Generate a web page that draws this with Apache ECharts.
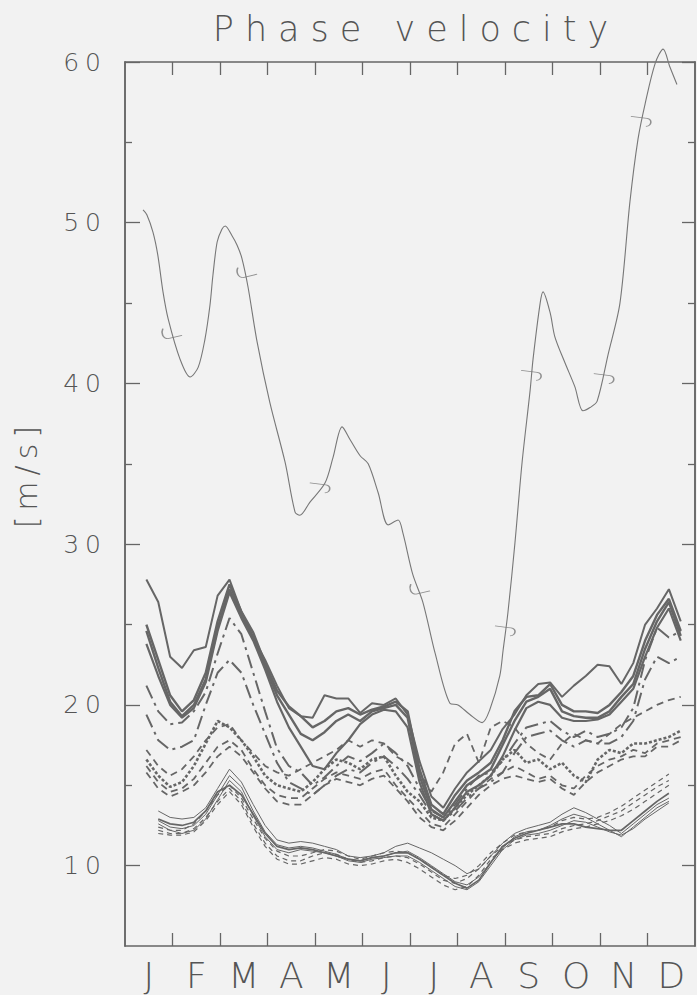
<!DOCTYPE html>
<html>
<head>
<meta charset="utf-8">
<script src="https://cdn.jsdelivr.net/npm/echarts@6/dist/echarts.min.js"></script>
<style>
  html, body { margin: 0; padding: 0; background: #f2f2f2; }
  #chart { width: 697px; height: 995px; }
</style>
</head>
<body>
<div id="chart"></div>
<script>
// Month letters and tick positions (axis runs 0..12 months)
const monthLabels = ['J', 'F', 'M', 'A', 'M', 'J', 'J', 'A', 'S', 'O', 'N', 'D'];
const monthCentres = [0.5, 1.5, 2.5, 3.5, 4.5, 5.5, 6.5, 7.5, 8.5, 9.5, 10.5, 11.5];
const monthEdges = [1, 2, 3, 4, 5, 6, 7, 8, 9, 10, 11];
const speedMajor = [10, 20, 30, 40, 50, 60];
const speedMinor = [15, 25, 35, 45, 55];

// Upper, fast curve
const topMonths = [0.38, 0.46, 0.59, 0.69, 0.80, 0.91, 1.16, 1.37, 1.54, 1.68, 1.79, 1.85, 1.94,
  2.04, 2.11, 2.25, 2.36, 2.46, 2.59, 2.78, 3.05, 3.37, 3.58, 3.68, 3.89, 4.21, 4.38, 4.57, 4.74,
  4.95, 5.12, 5.33, 5.54, 5.75, 5.85, 6.06, 6.27, 6.53, 6.84, 7.01, 7.26, 7.52, 7.68, 7.89, 7.96,
  8.06, 8.21, 8.36, 8.53, 8.59, 8.74, 8.80, 8.95, 9.05, 9.26, 9.47, 9.64, 9.79, 9.94, 10.17, 10.42,
  10.63, 10.80, 10.95, 11.16, 11.33, 11.47, 11.62];
const topSpeed = [50.8, 50.5, 49.4, 48.0, 45.7, 44.0, 41.5, 40.4, 41.0, 42.7, 44.9, 46.7, 48.8,
  49.6, 49.8, 49.2, 48.6, 47.8, 46.0, 42.6, 38.8, 35.1, 32.0, 31.8, 32.6, 33.8, 35.4, 37.3, 36.5,
  35.5, 35.0, 33.2, 31.2, 31.5, 30.7, 28.1, 26.4, 23.2, 20.1, 20.0, 19.4, 18.9, 19.7, 21.8, 23.4,
  25.7, 30.1, 35.1, 39.6, 41.5, 45.0, 45.7, 44.4, 42.9, 41.3, 39.8, 38.3, 38.5, 38.9, 41.8, 45.0,
  51.3, 55.2, 57.4, 59.9, 60.8, 59.7, 58.6];

// Curl marks along the upper curve
const curlLeftMonths = [0.99, 2.57, 6.21];
const curlLeftSpeed = [43.1, 46.9, 27.2];
const curlRightMonths = [4.10, 8.00, 8.55, 10.08, 10.86];
const curlRightSpeed = [33.5, 24.6, 40.5, 40.3, 56.3];

// Common sampling (months) for the lower families
const months = [0.45, 0.70, 0.95, 1.20, 1.45, 1.70, 1.95, 2.20, 2.45, 2.70, 2.95, 3.20, 3.45, 3.70,
  3.95, 4.20, 4.45, 4.70, 4.95, 5.20, 5.45, 5.70, 5.95, 6.20, 6.45, 6.70, 6.95, 7.20, 7.45, 7.70,
  7.95, 8.20, 8.45, 8.70, 8.95, 9.20, 9.45, 9.70, 9.95, 10.20, 10.45, 10.70, 10.95, 11.20, 11.45, 11.70];

// Middle family: solid curves
const midSolid1 = [27.8, 26.4, 23.0, 22.3, 23.4, 23.6, 26.8, 27.8, 25.8, 24.2, 22.8, 21.2, 19.8, 19.3,
  19.2, 20.6, 20.4, 20.4, 19.5, 20.1, 20.0, 20.4, 19.4, 16.5, 14.3, 13.6, 14.8, 15.8, 16.5, 17.2,
  18.5, 19.4, 20.6, 21.3, 21.4, 20.5, 21.2, 21.8, 22.5, 22.4, 21.3, 22.6, 25.0, 26.0, 27.2, 25.2];
const midSolid2 = [25.0, 22.8, 20.6, 19.6, 20.3, 22.0, 25.2, 27.5, 25.8, 24.5, 22.6, 20.9, 19.9, 19.3,
  18.6, 19.0, 19.6, 19.8, 19.4, 19.7, 19.9, 20.2, 19.6, 16.0, 13.8, 13.2, 14.4, 15.3, 15.8, 16.4,
  17.8, 19.6, 20.5, 20.6, 21.3, 20.0, 19.6, 19.6, 19.5, 20.0, 20.8, 21.8, 24.0, 25.6, 26.6, 24.6];
const midSolid3 = [24.6, 22.3, 20.2, 19.3, 20.0, 21.6, 24.8, 27.2, 25.6, 24.2, 22.4, 20.6, 19.4, 18.2,
  17.8, 18.3, 19.0, 19.4, 19.0, 19.6, 19.8, 20.0, 19.2, 15.6, 13.5, 13.0, 14.0, 15.0, 15.5, 16.0,
  17.5, 19.0, 20.2, 20.5, 21.0, 19.6, 19.3, 19.2, 19.2, 19.6, 20.5, 21.3, 23.5, 25.2, 26.4, 24.3];
const midSolid4 = [23.8, 21.8, 20.0, 19.2, 19.8, 21.4, 24.6, 27.0, 25.4, 24.0, 22.2, 20.2, 18.6, 17.4,
  16.2, 16.0, 17.0, 17.8, 18.8, 19.4, 19.7, 19.6, 18.6, 15.2, 13.2, 12.8, 13.6, 14.6, 15.0, 15.6,
  16.8, 18.4, 19.8, 20.2, 20.0, 19.2, 19.0, 19.0, 19.1, 19.4, 20.2, 21.0, 23.0, 24.8, 26.0, 24.0];

// Middle family: dash-dot curves
const midDashDot1 = [21.2, 19.6, 18.8, 18.9, 19.6, 20.8, 23.2, 25.4, 24.4, 22.0, 19.6, 17.3, 16.2, 15.8,
  15.0, 15.5, 16.2, 16.8, 16.5, 17.0, 17.6, 17.0, 16.2, 14.8, 13.4, 13.0, 13.8, 14.8, 15.6, 15.8,
  16.5, 17.6, 18.6, 18.8, 19.0, 18.4, 18.0, 18.4, 18.0, 18.2, 18.6, 19.8, 22.8, 24.8, 24.2, 24.6];
const midDashDot2 = [19.4, 17.8, 17.2, 17.4, 17.8, 20.0, 22.0, 22.8, 22.0, 20.0, 18.2, 16.4, 15.2, 14.8,
  14.4, 15.0, 15.6, 16.0, 15.8, 16.4, 16.8, 16.2, 15.4, 14.4, 13.2, 12.8, 13.4, 14.2, 14.8, 15.2,
  15.8, 17.0, 18.0, 18.2, 18.4, 17.8, 17.4, 17.8, 17.6, 17.6, 18.0, 19.0, 21.6, 23.0, 22.6, 23.0];

// Middle family: dashed curves
const midDash1 = [17.2, 16.2, 15.6, 16.0, 16.8, 17.8, 18.6, 18.8, 17.8, 17.0, 16.2, 15.8, 15.6, 16.0,
  16.4, 16.8, 17.2, 17.8, 17.4, 17.8, 17.6, 16.8, 16.4, 15.8, 14.6, 15.8, 17.6, 18.2, 16.4, 18.6,
  19.0, 18.6, 17.6, 17.0, 16.6, 17.6, 18.2, 17.8, 17.6, 18.2, 18.8, 19.2, 19.6, 20.0, 20.3, 20.5];
const midDash2 = [16.6, 15.6, 14.9, 15.2, 16.2, 17.6, 19.0, 18.6, 17.8, 16.8, 15.6, 15.0, 14.8, 14.6,
  15.2, 16.0, 16.6, 16.4, 16.0, 16.6, 16.8, 15.6, 14.6, 14.0, 13.0, 12.8, 13.6, 14.4, 15.0, 15.6,
  16.6, 17.2, 16.4, 16.6, 16.0, 16.4, 15.6, 15.2, 16.6, 17.2, 17.0, 17.6, 17.6, 17.8, 18.0, 18.4];
const midDash3 = [16.2, 15.2, 14.6, 14.8, 15.4, 16.4, 17.4, 17.8, 17.2, 16.0, 15.0, 14.4, 14.2, 14.2,
  14.8, 15.4, 15.8, 15.6, 15.4, 15.8, 16.0, 15.0, 14.2, 13.4, 12.6, 12.4, 13.2, 14.0, 14.8, 15.4,
  15.8, 16.2, 15.8, 15.4, 15.6, 15.0, 14.8, 15.6, 16.2, 16.6, 16.8, 17.2, 17.0, 17.6, 17.8, 18.0];
const midDash4 = [15.8, 14.8, 14.3, 14.6, 15.0, 15.8, 16.8, 17.4, 16.8, 15.8, 14.8, 14.0, 13.8, 13.8,
  14.4, 15.0, 15.4, 15.2, 15.0, 15.4, 15.6, 14.8, 14.0, 13.0, 12.4, 12.2, 12.8, 13.6, 14.4, 15.0,
  15.4, 15.6, 15.4, 15.2, 15.4, 14.8, 14.4, 15.2, 15.8, 16.2, 16.6, 16.8, 16.8, 17.4, 17.4, 17.8];

// Lower family: solid curves
const lowSolid1 = [null, 13.4, 13.0, 12.9, 13.0, 13.6, 14.8, 16.0, 15.2, 13.8, 12.5, 11.6, 11.4, 11.5,
  11.4, 11.2, 11.0, 10.6, 10.5, 10.6, 10.8, 11.2, 11.4, 11.1, 10.8, 10.4, 10.0, 9.5, 9.8, 10.6,
  11.4, 12.0, 12.3, 12.5, 12.7, 13.2, 13.6, 13.3, 12.9, 12.5, 12.0, 12.6, 13.2, 13.8, 14.2, null];
const lowSolid2 = [null, 12.8, 12.4, 12.3, 12.5, 13.2, 14.4, 15.6, 14.9, 13.4, 12.1, 11.3, 11.1, 11.2,
  11.1, 10.9, 10.7, 10.4, 10.3, 10.5, 10.6, 10.8, 10.9, 10.5, 10.0, 9.5, 9.0, 8.8, 9.3, 10.2,
  11.1, 11.8, 12.1, 12.2, 12.5, 12.9, 13.2, 13.0, 12.6, 12.2, 11.8, 12.4, 13.0, 13.6, 14.0, null];
const lowSolid3 = [null, 12.6, 12.2, 12.0, 12.2, 12.9, 14.1, 15.3, 14.6, 13.1, 11.8, 11.0, 10.8, 11.0,
  10.9, 10.8, 10.6, 10.3, 10.2, 10.4, 10.5, 10.6, 10.6, 10.2, 9.7, 9.2, 8.7, 8.5, 9.0, 10.0,
  11.0, 11.6, 11.9, 12.0, 12.2, 12.5, 12.8, 12.7, 12.4, 12.1, 11.9, 12.3, 12.9, 13.4, 13.9, null];
const lowSolid4 = [null, 12.9, 12.6, 12.5, 12.7, 13.4, 14.6, 15.0, 14.4, 13.2, 12.0, 11.2, 11.0, 11.1,
  11.0, 10.8, 10.6, 10.4, 10.3, 10.5, 10.6, 10.8, 10.8, 10.4, 9.9, 9.4, 8.9, 8.6, 9.1, 10.2,
  11.2, 11.7, 12.0, 12.2, 12.4, 12.6, 12.6, 12.4, 12.3, 12.2, 12.2, 12.8, 13.4, 14.0, 14.5, null];

// Lower family: dashed curves
const lowDash1 = [null, 12.4, 12.2, 12.2, 12.6, 13.4, 14.4, 15.0, 14.2, 12.9, 11.7, 10.9, 10.6, 10.6,
  10.8, 11.0, 10.9, 10.6, 10.4, 10.6, 10.8, 10.9, 10.8, 10.4, 9.9, 9.4, 9.2, 9.4, 10.0, 10.8,
  11.4, 11.9, 12.1, 12.2, 12.4, 12.8, 13.0, 12.9, 13.0, 13.3, 13.7, 14.2, 14.7, 15.2, 15.7, null];
const lowDash2 = [null, 12.2, 12.0, 12.0, 12.3, 13.0, 14.0, 14.8, 14.0, 12.6, 11.4, 10.6, 10.3, 10.3,
  10.6, 10.8, 10.7, 10.4, 10.2, 10.3, 10.5, 10.6, 10.5, 10.1, 9.6, 9.1, 8.9, 9.2, 9.8, 10.6,
  11.2, 11.6, 11.8, 11.9, 12.0, 12.3, 12.5, 12.6, 12.8, 13.1, 13.4, 13.9, 14.4, 14.9, 15.3, null];
const lowDash3 = [null, 12.0, 11.9, 11.9, 12.1, 12.8, 13.8, 14.6, 13.8, 12.4, 11.2, 10.4, 10.1, 10.1,
  10.3, 10.5, 10.4, 10.1, 10.0, 10.1, 10.3, 10.4, 10.2, 9.8, 9.3, 8.8, 8.5, 8.7, 9.4, 10.4,
  11.0, 11.4, 11.6, 11.7, 11.8, 12.1, 12.3, 12.4, 12.6, 12.8, 13.1, 13.5, 14.0, 14.5, 15.0, null];

const INK = '#666666';
const FONT = "'DejaVu Sans', 'Noto Sans', sans-serif";

function pairs(xs, ys) {
  return xs.map((x, i) => [x, ys[i]]);
}

function curve(values, width, type, extra) {
  return Object.assign({
    type: 'line',
    data: pairs(months, values),
    showSymbol: false,
    symbol: 'none',
    connectNulls: false,
    lineStyle: { color: INK, width: width, type: type },
    silent: true
  }, extra || {});
}

const dashDot = [14, 5, 3, 5];
const dashed = [7, 5];
const fineDash = [5, 4];

const curlLeft = 'path://M2,0 C0,4 2,9 7,9 L20,6';
const curlRight = 'path://M0,0 L15,2 C20,3 20,9 14,10';

const xAxisBase = {
  type: 'value',
  min: 0,
  max: 12,
  splitLine: { show: false },
  axisLine: { show: true, lineStyle: { color: INK, width: 1.5 } },
  axisTick: { show: true, inside: true, length: 13, customValues: monthEdges,
    lineStyle: { color: INK, width: 1.3 } }
};

const yAxisBase = {
  type: 'value',
  min: 5,
  max: 60,
  splitLine: { show: false },
  axisLine: { show: true, lineStyle: { color: INK, width: 1.5 } }
};

const option = {
  backgroundColor: '#f2f2f2',
  animation: false,
  title: {
    text: 'Phase velocity',
    left: 411,
    top: 6,
    textAlign: 'center',
    textStyle: { fontFamily: FONT, fontWeight: 200, fontSize: 35, color: '#555' }
  },
  grid: { left: 125, right: 2, top: 62, bottom: 49, containLabel: false },
  xAxis: [
    Object.assign({}, xAxisBase, {
      position: 'bottom',
      axisLabel: {
        show: true,
        customValues: monthCentres,
        formatter: v => monthLabels[Math.floor(v)],
        fontFamily: FONT, fontWeight: 200, fontSize: 36, color: '#555', margin: 11
      }
    }),
    Object.assign({}, xAxisBase, { position: 'top', axisLabel: { show: false } })
  ],
  yAxis: [
    Object.assign({}, yAxisBase, {
      position: 'left',
      axisTick: { show: true, inside: true, length: 15, customValues: speedMajor,
        lineStyle: { color: INK, width: 1.3 } },
      axisLabel: { show: true, customValues: speedMajor, fontFamily: FONT, fontWeight: 200,
        fontSize: 25, color: '#555', margin: 18 }
    }),
    Object.assign({}, yAxisBase, {
      position: 'left',
      axisTick: { show: true, inside: true, length: 7, customValues: speedMinor,
        lineStyle: { color: INK, width: 1.3 } },
      axisLabel: { show: false }
    }),
    Object.assign({}, yAxisBase, {
      position: 'right',
      axisTick: { show: true, inside: true, length: 13, customValues: speedMajor,
        lineStyle: { color: INK, width: 1.3 } },
      axisLabel: { show: false }
    }),
    Object.assign({}, yAxisBase, {
      position: 'right',
      axisTick: { show: true, inside: true, length: 7, customValues: speedMinor,
        lineStyle: { color: INK, width: 1.3 } },
      axisLabel: { show: false }
    })
  ],
  graphic: [{
    type: 'text',
    left: 11,
    top: 450,
    rotation: Math.PI / 2,
    style: { text: '[m/s]', font: `200 30px ${FONT}`, fill: '#555' }
  }],
  series: [
    {
      type: 'line',
      data: pairs(topMonths, topSpeed),
      smooth: 0.3,
      showSymbol: false,
      symbol: 'none',
      clip: false,
      lineStyle: { color: '#777', width: 1.1 },
      silent: true
    },
    {
      type: 'scatter',
      data: pairs(curlLeftMonths, curlLeftSpeed),
      symbol: curlLeft,
      symbolSize: [20, 10],
      itemStyle: { color: 'none', borderColor: '#777', borderWidth: 1.1 },
      silent: true
    },
    {
      type: 'scatter',
      data: pairs(curlRightMonths, curlRightSpeed),
      symbol: curlRight,
      symbolSize: [20, 10],
      itemStyle: { color: 'none', borderColor: '#777', borderWidth: 1.1 },
      silent: true
    },
    curve(midSolid1, 2.0, 'solid'),
    curve(midSolid2, 2.4, 'solid'),
    curve(midSolid3, 2.4, 'solid'),
    curve(midSolid4, 2.2, 'solid'),
    curve(midDashDot1, 2.0, dashDot),
    curve(midDashDot2, 2.0, dashDot),
    curve(midDash1, 1.8, dashed),
    curve(midDash2, 2.6, [3, 2]),
    curve(midDash3, 1.8, dashed),
    curve(midDash4, 1.8, dashed),
    curve(lowSolid1, 1.0, 'solid'),
    curve(lowSolid2, 1.0, 'solid'),
    curve(lowSolid3, 1.0, 'solid'),
    curve(lowSolid4, 1.7, 'solid'),
    curve(lowDash1, 1.2, fineDash),
    curve(lowDash2, 1.2, fineDash),
    curve(lowDash3, 1.2, fineDash)
  ]
};

const el = document.getElementById('chart');
const chart = echarts.init(el, null, { renderer: 'svg' });
chart.setOption(option);

// Wide tracking of the lettering
function spaceLetters() {
  el.querySelectorAll('text').forEach(t => {
    const s = t.textContent;
    if (s === 'Phase velocity') t.style.letterSpacing = '11px';
    else if (s === '[m/s]') t.style.letterSpacing = '6px';
    else if (/^\d+$/.test(s)) t.style.letterSpacing = '6px';
  });
}
spaceLetters();
chart.on('finished', spaceLetters);
</script>
</body>
</html>
